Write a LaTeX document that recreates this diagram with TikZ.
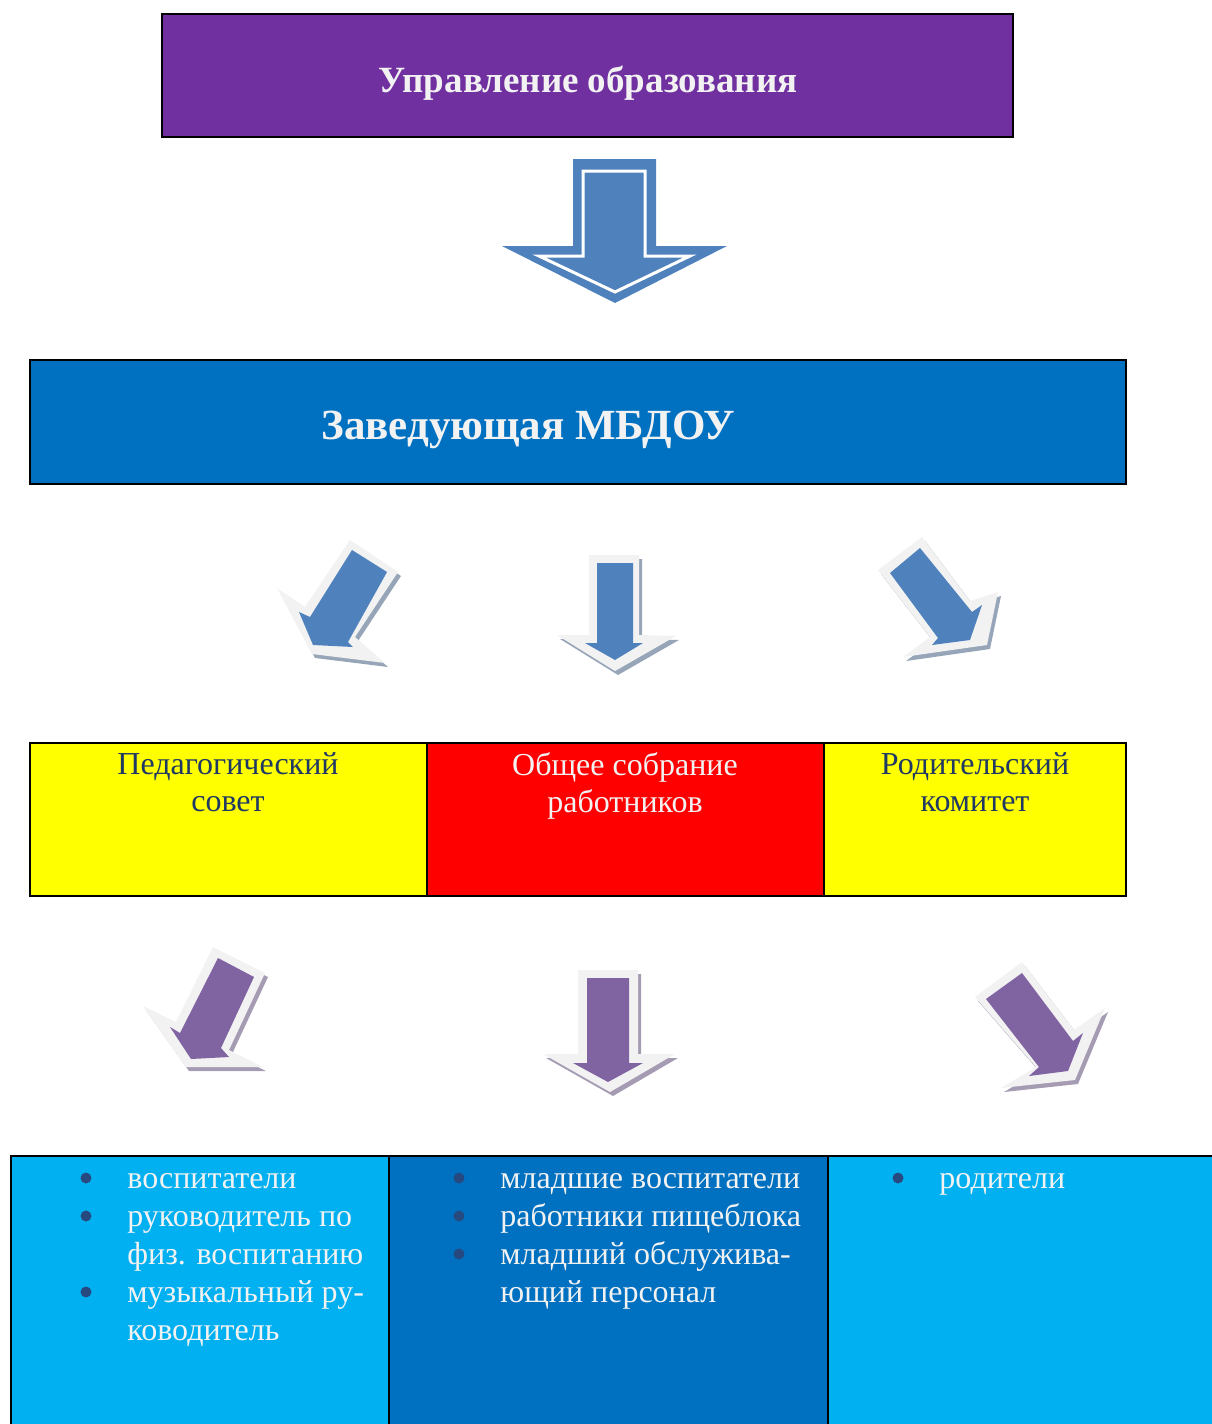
\documentclass[tikz,border=0pt]{standalone}
\usepackage{fontspec}
\setmainfont{Liberation Serif}
\definecolor{violetbox}{HTML}{7030A0}
\definecolor{deepblue}{HTML}{0070C0}
\definecolor{skyblue}{HTML}{00B0F0}
\definecolor{plainyellow}{HTML}{FFFF00}
\definecolor{plainred}{HTML}{FF0000}
\definecolor{navytext}{HTML}{1F3864}
\definecolor{dotnavy}{HTML}{264A80}
\definecolor{paper}{HTML}{F2F2F2}
\definecolor{arrowblue}{HTML}{4F81BD}
\definecolor{arrowviolet}{HTML}{8064A2}
\definecolor{blueshade}{HTML}{97A5B9}
\definecolor{violetshade}{HTML}{A59CB4}
\begin{document}
\begin{tikzpicture}
	[x=0.5pt,y=-0.5pt,
	box/.style={draw=black,line width=1pt},
	title/.style={font=\bfseries\fontsize{18.5}{22}\selectfont,text=paper,inner sep=0pt,anchor=base},
	label/.style={font=\fontsize{16}{18.5}\selectfont,align=center,inner sep=0pt,anchor=north},
	list/.style={font=\fontsize{16}{19}\selectfont,text=paper,inner sep=0pt,anchor=base west},
	listdot/.style={fill=dotnavy},
	bluerim/.style={fill=paper,preaction={fill=blueshade,transform canvas={shift={(1.5pt,-2pt)}}}},
	violetrim/.style={fill=paper,preaction={fill=violetshade,transform canvas={shift={(1.5pt,-2pt)}}}}]
	\useasboundingbox (0,0) rectangle (1211,1424);

	% top level
	\draw[box,fill=violetbox] (162,14) rectangle (1013,137);
	\node[title] (uprav) at (588,92) {Управление образования};

	\fill[arrowblue] (573,159) -- (656,159) -- (656,246) -- (727,246) -- (615,303) -- (502,246) -- (573,246) -- cycle;
	\draw[white,line width=1.5pt,line join=miter] (583,171) -- (645,171) -- (645,256) -- (690,256) -- (615,292) -- (539,256) -- (583,256) -- cycle;

	% head
	\draw[box,fill=deepblue] (30,360) rectangle (1126,484);
	\node[title,font=\bfseries\fontsize{21.5}{25}\selectfont] (zav) at (528,439) {Заведующая МБДОУ};

	\fill[bluerim] (350,540) -- (398,572) -- (355,637) -- (385,663) -- (312,654) -- (277,588) -- (305,607) -- cycle;
	\fill[arrowblue] (352,550) -- (387,572) -- (348,642) -- (353,647) -- (313,645) -- (299,612) -- (310,617) -- cycle;
	\fill[bluerim] (589,555) -- (639,555) -- (639,635) -- (676,636) -- (615,671) -- (557,635) -- (589,635) -- cycle;
	\fill[arrowblue] (597,563) -- (633,563) -- (633,643) -- (643,643) -- (615,660) -- (585,643) -- (597,643) -- cycle;
	\fill[bluerim] (878,570) -- (922,537) -- (970,601) -- (998,592) -- (987,645) -- (903,657) -- (930,637) -- cycle;
	\fill[arrowblue] (890,573) -- (920,548) -- (972,612) -- (982,605) -- (970,640) -- (932,645) -- (938,638) -- cycle;

	% councils
	\draw[box,fill=plainyellow] (30,743) rectangle (427,896);
	\draw[box,fill=plainred] (427,743) rectangle (824,896);
	\draw[box,fill=plainyellow] (824,743) rectangle (1126,896);
	\node[label,text=navytext] (pedsovet) at (228,752) {Педагогический\\совет};
	\node[label,text=paper] (sobranie) at (625,752) {Общее собрание\\работников};
	\node[label,text=navytext] (komitet) at (975,752) {Родительский\\комитет};

	\fill[violetrim] (213,947) -- (265,973) -- (229,1050) -- (263,1067) -- (186,1067) -- (143,1006) -- (176,1022) -- cycle;
	\fill[arrowviolet] (218,958) -- (254,977) -- (221,1048) -- (229,1057) -- (191,1059) -- (170,1027) -- (180,1033) -- cycle;
	\fill[violetrim] (578,970) -- (638,970) -- (638,1054) -- (675,1054) -- (610,1092) -- (543,1054) -- (578,1054) -- cycle;
	\fill[arrowviolet] (587,978) -- (629,978) -- (629,1063) -- (643,1063) -- (608,1082) -- (573,1063) -- (587,1063) -- cycle;
	\fill[violetrim] (975,997) -- (1022,962) -- (1074,1030) -- (1105,1008) -- (1075,1080) -- (1001,1088) -- (1036,1067) -- cycle;
	\fill[arrowviolet] (986,999) -- (1022,973) -- (1073,1041) -- (1083,1033) -- (1068,1071) -- (1029,1076) -- (1039,1067) -- cycle;

	% staff
	\draw[box,fill=skyblue] (11,1156) rectangle (389,1432);
	\draw[box,fill=deepblue] (389,1156) rectangle (828,1432);
	\draw[box,fill=skyblue] (828,1156) rectangle (1220,1432);
	\node[list] (pedagogi) at (127,1188) {\begin{tabular}[t]{@{}l@{}}
		воспитатели\\
		руководитель по\\
		физ. воспитанию\\
		музыкальный ру-\\
		ководитель
	\end{tabular}};
	\node[list] (personal) at (500,1188) {\begin{tabular}[t]{@{}l@{}}
		младшие воспитатели\\
		работники пищеблока\\
		младший обслужива-\\
		ющий персонал
	\end{tabular}};
	\node[list] (roditeli) at (939,1188) {\begin{tabular}[t]{@{}l@{}}
		родители
	\end{tabular}};
	\foreach \y in {1178,1216,1292}
		\fill[listdot] (86,\y) circle (5.5);
	\foreach \y in {1178,1216,1254}
		\fill[listdot] (459,\y) circle (5.5);
	\fill[listdot] (898,1178) circle (5.5);
\end{tikzpicture}
\end{document}
